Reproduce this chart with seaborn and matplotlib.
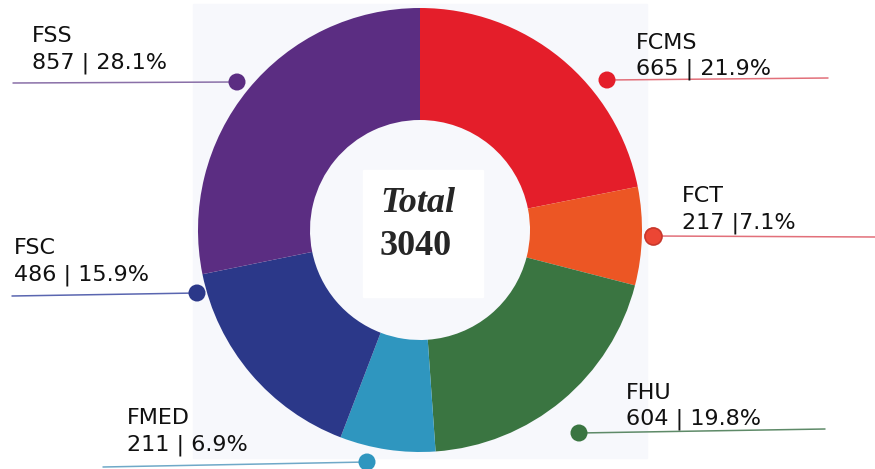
import matplotlib
matplotlib.use("Agg")
import matplotlib.pyplot as plt
import matplotlib.patches as mpatches
import numpy as np
import pandas as pd
import seaborn as sns

# data
faculties = ["FCMS", "FCT", "FHU", "FMED", "FSC", "FSS"]
counts = [665, 217, 604, 211, 486, 857]
count_texts = ["665 | 21.9%", "217 |7.1%", "604 | 19.8%", "211 | 6.9%", "486 | 15.9%", "857 | 28.1%"]
colors = ["#e41e2a", "#ec5624", "#3a7541", "#2f96bf", "#2b3889", "#5b2d82"]
dot_colors = ["#e41e2a", "#ec4634", "#3a7541", "#2f96bf", "#2b3889", "#5b2d82"]
line_colors = ["#e2707a", "#e2707a", "#5e8a68", "#6fa9c8", "#5a66b0", "#8a70a8"]
total = 3040

# label placement (pixel coords, y down)
dot_xy = [(607, 80), (653, 236), (579, 433), (367, 462), (197, 293), (237, 82)]
line_end = [(828, 78), (875, 237), (825, 429), (103, 467), (12, 296), (13, 83)]
text_xy = [(636, 75), (682, 228), (626, 425), (127, 450), (14, 280), (32, 68)]

sns.set_theme(style="white")
plt.rcParams["font.family"] = ["DejaVu Sans"]

fig = plt.figure(figsize=(8.75, 4.69), dpi=100)
ax = fig.add_axes([0, 0, 1, 1])

cx, cy = 420, 230
r_out, r_in = 222, 110

# light background panel behind the donut
ax.add_patch(mpatches.Rectangle((193, 4), 454, 454, color="#f7f8fc", zorder=0))

ax.pie(counts, colors=colors, startangle=-90, counterclock=True,
       center=(cx, cy), radius=r_out,
       wedgeprops=dict(width=r_out - r_in, linewidth=0), frame=True)
ax.add_patch(mpatches.Rectangle((363, 170), 120, 127, color="white", zorder=3))

ax.text(cx - 2, 212, "Total", ha="center", va="baseline", fontsize=26,
        family=["Liberation Serif", "DejaVu Serif"], weight="bold", style="italic", zorder=4)
ax.text(cx - 4, 255, str(total), ha="center", va="baseline", fontsize=26,
        family=["Liberation Serif", "DejaVu Serif"], weight="bold", zorder=4)

# leader lines and labels
for i, name in enumerate(faculties):
    (dx, dy), (lx, ly) = dot_xy[i], line_end[i]
    ax.plot([lx, dx], [ly, dy], color=line_colors[i], lw=1.1, zorder=2)
    tx, ty = text_xy[i]
    ax.text(tx, ty - 26, name, fontsize=16, color="#111111", va="baseline")
    ax.text(tx, ty, count_texts[i], fontsize=16, color="#111111", va="baseline")

dots = pd.DataFrame({"x": [p[0] for p in dot_xy], "y": [p[1] for p in dot_xy],
                     "faculty": faculties})
sns.scatterplot(data=dots, x="x", y="y", hue="faculty", palette=dot_colors,
                s=150, linewidth=0, legend=False, ax=ax, zorder=5)
# the FCT dot has a darker rim
ax.scatter([dot_xy[1][0]], [dot_xy[1][1]], s=150, color=dot_colors[1],
           edgecolor="#c8372c", linewidth=1.2, zorder=6)

ax.set_xlim(0, 875)
ax.set_ylim(469, 0)
ax.set_aspect("auto")
ax.axis("off")

fig.savefig("out.png", dpi=100, facecolor="white")
